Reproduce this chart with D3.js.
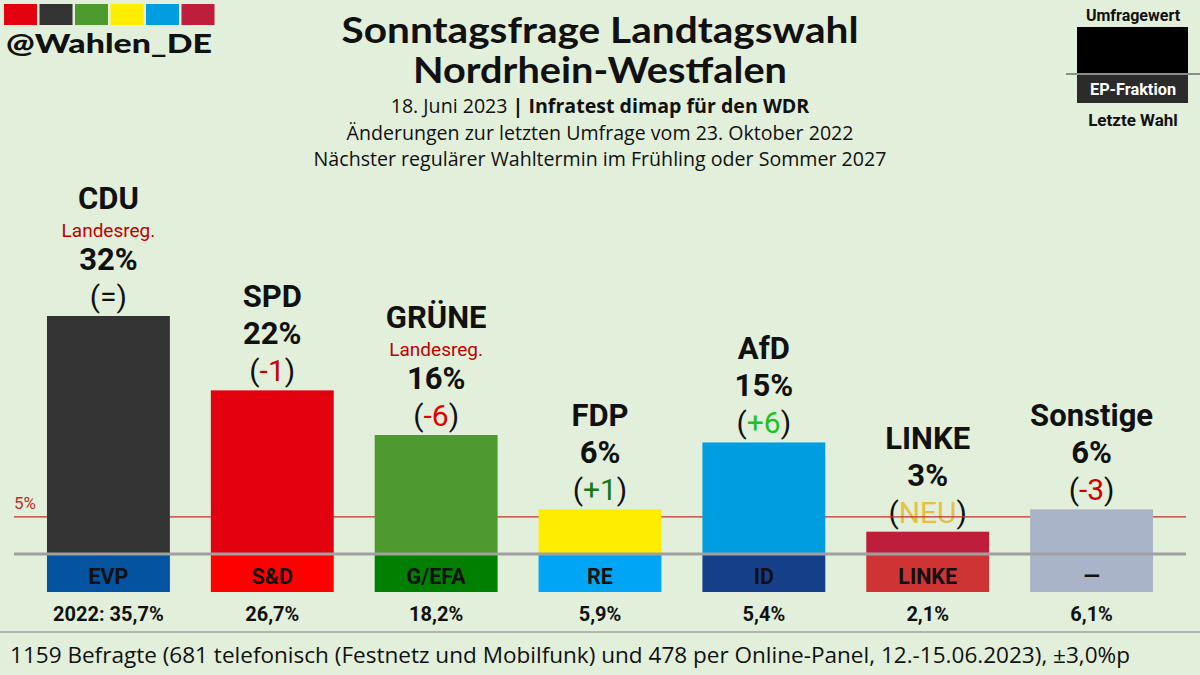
<!DOCTYPE html>
<html>
<head>
<meta charset="utf-8">
<script src="https://cdn.jsdelivr.net/npm/d3@7"></script>
<style>
  body { margin: 0; background: #e2efda; }
  svg { display: block; }
</style>
</head>
<body>
<div id="chart"></div>
<script>
const width = 1200;
const height = 675;

// Data
const parties = ['CDU', 'SPD', 'GRÜNE', 'FDP', 'AfD', 'LINKE', 'Sonstige'];
const values = [32, 22, 16, 6, 15, 3, 6];
const changes = ['=', '-1', '-6', '+1', '+6', 'NEU', '-3'];
const government = [true, false, true, false, false, false, false];
const epGroups = ['EVP', 'S&D', 'G/EFA', 'RE', 'ID', 'LINKE', '—'];
const lastElection = ['2022: 35,7%', '26,7%', '18,2%', '5,9%', '5,4%', '2,1%', '6,1%'];
const barColors = ['#333333', '#e3000f', '#4e9a2e', '#ffed00', '#009ee0', '#be1e3c', '#aab4c8'];
const epColors = ['#0353a0', '#ff0000', '#007f00', '#00a6f5', '#163f8a', '#cf3434', '#aab4c8'];
const changeColors = ['#111111', '#c80000', '#e60000', '#187818', '#22c022', '#e6c045', '#d20000'];
const logoColors = ['#e3000f', '#333333', '#4e9a2e', '#ffed00', '#009ee0', '#be1e3c'];
const threshold = 5;

const baseY = 554;

const svg = d3.select('#chart')
  .append('svg')
  .attr('width', width)
  .attr('height', height);

svg.append('rect')
  .attr('width', width)
  .attr('height', height)
  .attr('fill', '#e2efda');

// Scales
const x = d3.scaleBand()
  .domain(parties)
  .range([26.5, 1173.5])
  .paddingInner(0.25)
  .paddingOuter(0.125);

const y = d3.scaleLinear()
  .domain([0, 32])
  .range([baseY, 316]);

const rows = parties.map((p, i) => ({
  party: p, value: values[i], change: changes[i], gov: government[i],
  ep: epGroups[i], last: lastElection[i], color: barColors[i],
  epColor: epColors[i], changeColor: changeColors[i]
}));

// Logo
svg.selectAll('.logo')
  .data(logoColors)
  .enter()
  .append('rect')
  .attr('x', (d, i) => 4 + i * 35.5)
  .attr('y', 4)
  .attr('width', 33)
  .attr('height', 21)
  .attr('fill', d => d);

svg.append('text')
  .attr('x', 6)
  .attr('y', 53)
  .attr('font-family', 'Lato')
  .attr('font-weight', 900)
  .attr('font-size', 27)
  .attr('textLength', 206)
  .attr('lengthAdjust', 'spacingAndGlyphs')
  .attr('fill', '#111')
  .text('@Wahlen_DE');

// Title
svg.append('text')
  .attr('x', 600).attr('y', 43)
  .attr('text-anchor', 'middle')
  .attr('font-family', 'Lato').attr('font-weight', 700).attr('font-size', 36)
  .attr('textLength', 517).attr('lengthAdjust', 'spacingAndGlyphs')
  .attr('fill', '#111')
  .text('Sonntagsfrage Landtagswahl');

svg.append('text')
  .attr('x', 600).attr('y', 83)
  .attr('text-anchor', 'middle')
  .attr('font-family', 'Lato').attr('font-weight', 700).attr('font-size', 36)
  .attr('textLength', 374).attr('lengthAdjust', 'spacingAndGlyphs')
  .attr('fill', '#111')
  .text('Nordrhein-Westfalen');

const sub = svg.append('text')
  .attr('x', 600).attr('y', 113)
  .attr('text-anchor', 'middle')
  .attr('font-family', 'Open Sans').attr('font-size', 19.6)
  .attr('fill', '#111');
sub.append('tspan').text('18. Juni 2023 ');
sub.append('tspan').attr('font-weight', 700).text('| Infratest dimap für den WDR');

svg.append('text')
  .attr('x', 600).attr('y', 140)
  .attr('text-anchor', 'middle')
  .attr('font-family', 'Open Sans').attr('font-size', 19.6)
  .attr('fill', '#111')
  .text('Änderungen zur letzten Umfrage vom 23. Oktober 2022');

svg.append('text')
  .attr('x', 600).attr('y', 166)
  .attr('text-anchor', 'middle')
  .attr('font-family', 'Open Sans').attr('font-size', 19.6)
  .attr('fill', '#111')
  .text('Nächster regulärer Wahltermin im Frühling oder Sommer 2027');

// Legend (top right)
svg.append('text')
  .attr('x', 1133).attr('y', 21)
  .attr('text-anchor', 'middle')
  .attr('font-family', 'Roboto').attr('font-weight', 700).attr('font-size', 16)
  .attr('fill', '#111')
  .text('Umfragewert');
svg.append('rect')
  .attr('x', 1077).attr('y', 27).attr('width', 111).attr('height', 46)
  .attr('fill', '#000');
svg.append('rect')
  .attr('x', 1077).attr('y', 75).attr('width', 111).attr('height', 28)
  .attr('fill', '#2b2b2b');
svg.append('line')
  .attr('x1', 1066).attr('x2', 1200).attr('y1', 74).attr('y2', 74)
  .attr('stroke', '#8c8c8c').attr('stroke-width', 2);
svg.append('text')
  .attr('x', 1133).attr('y', 95)
  .attr('text-anchor', 'middle')
  .attr('font-family', 'Roboto').attr('font-weight', 700).attr('font-size', 16.3)
  .attr('fill', '#fff')
  .text('EP-Fraktion');
svg.append('text')
  .attr('x', 1133).attr('y', 126)
  .attr('text-anchor', 'middle')
  .attr('font-family', 'Roboto').attr('font-weight', 700).attr('font-size', 17)
  .attr('fill', '#111')
  .text('Letzte Wahl');

// Labels above bars
const labels = svg.selectAll('.label')
  .data(rows)
  .enter()
  .append('g')
  .attr('class', 'label');

const cx = d => x(d.party) + x.bandwidth() / 2;
const pctY = d => y(d.value) - 46;
const nameY = d => d.gov ? pctY(d) - 61 : pctY(d) - 37;

labels.append('text')
  .attr('x', cx).attr('y', nameY)
  .attr('text-anchor', 'middle')
  .attr('font-family', 'Roboto').attr('font-weight', 700).attr('font-size', 31)
  .attr('fill', '#111')
  .text(d => d.party);

labels.filter(d => d.gov)
  .append('text')
  .attr('x', cx).attr('y', d => pctY(d) - 33)
  .attr('text-anchor', 'middle')
  .attr('font-family', 'Roboto').attr('font-size', 19)
  .attr('fill', '#c00000')
  .text('Landesreg.');

labels.append('text')
  .attr('x', cx).attr('y', pctY)
  .attr('text-anchor', 'middle')
  .attr('font-family', 'Roboto').attr('font-weight', 700).attr('font-size', 31)
  .attr('fill', '#111')
  .text(d => d.value + '%');

const chg = labels.append('text')
  .attr('x', cx).attr('y', d => y(d.value) - 9)
  .attr('text-anchor', 'middle')
  .attr('font-family', 'Roboto').attr('font-size', 30)
  .attr('fill', '#111');
chg.append('tspan').text('(');
chg.append('tspan').attr('fill', d => d.changeColor).text(d => d.change);
chg.append('tspan').text(')');

// 5% threshold
svg.append('line')
  .attr('x1', 14).attr('x2', 1186)
  .attr('y1', y(threshold)).attr('y2', y(threshold))
  .attr('stroke', '#c0302a').attr('stroke-width', 1.2);
svg.append('text')
  .attr('x', 14).attr('y', y(threshold) - 8)
  .attr('font-family', 'Roboto').attr('font-size', 17)
  .attr('fill', '#c0302a')
  .text('5%');

// Bars
svg.selectAll('.bar')
  .data(rows)
  .enter()
  .append('rect')
  .attr('class', 'bar')
  .attr('x', d => x(d.party))
  .attr('width', x.bandwidth())
  .attr('y', d => y(d.value))
  .attr('height', d => baseY - y(d.value))
  .attr('fill', d => d.color);

// EP group boxes
svg.selectAll('.ep')
  .data(rows)
  .enter()
  .append('rect')
  .attr('class', 'ep')
  .attr('x', d => x(d.party))
  .attr('width', x.bandwidth())
  .attr('y', baseY)
  .attr('height', 38)
  .attr('fill', d => d.epColor);

svg.selectAll('.ep-label')
  .data(rows)
  .enter()
  .append('text')
  .attr('x', cx).attr('y', 584)
  .attr('text-anchor', 'middle')
  .attr('font-family', 'Roboto').attr('font-weight', 700).attr('font-size', 21.5)
  .attr('fill', '#111')
  .text(d => d.ep);

// Baseline
svg.append('line')
  .attr('x1', 14).attr('x2', 1186)
  .attr('y1', baseY).attr('y2', baseY)
  .attr('stroke', '#a0a0a0').attr('stroke-width', 3);

// Last election
svg.selectAll('.last')
  .data(rows)
  .enter()
  .append('text')
  .attr('x', cx).attr('y', 621)
  .attr('text-anchor', 'middle')
  .attr('font-family', 'Roboto').attr('font-weight', 700).attr('font-size', 20)
  .attr('fill', '#111')
  .text(d => d.last);

// Footer
svg.append('line')
  .attr('x1', 0).attr('x2', width)
  .attr('y1', 632).attr('y2', 632)
  .attr('stroke', '#a0a0a0').attr('stroke-width', 1.5);
svg.append('text')
  .attr('x', 10).attr('y', 663)
  .attr('font-family', 'Open Sans').attr('font-size', 22)
  .attr('textLength', 1120).attr('lengthAdjust', 'spacingAndGlyphs')
  .attr('fill', '#111')
  .text('1159 Befragte (681 telefonisch (Festnetz und Mobilfunk) und 478 per Online-Panel, 12.-15.06.2023), ±3,0%p');
</script>
</body>
</html>
